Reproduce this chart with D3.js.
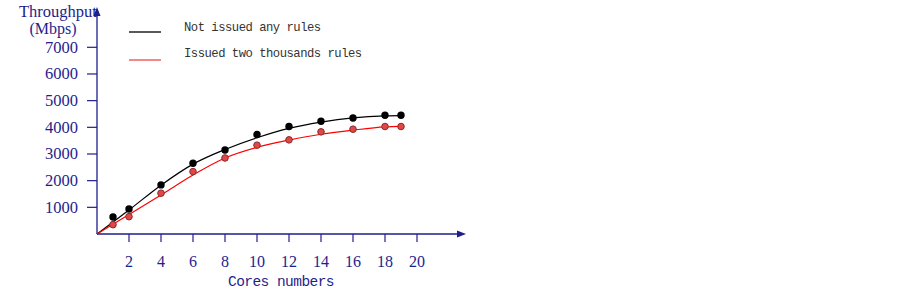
<!DOCTYPE html>
<html><head><meta charset="utf-8">
<script src="https://cdn.jsdelivr.net/npm/d3@7"></script>
<style>body{margin:0;background:#fff}</style>
</head><body><svg id="c" width="903" height="301"></svg>
<script>
const cores = [1,2,4,6,8,10,12,14,16,18,19];
const noRules = [640,940,1840,2650,3150,3730,4030,4230,4350,4450,4450];
const twoKRules = [350,650,1530,2340,2850,3330,3530,3830,3930,4030,4030];
const fitX = [0,2,4,6,8,10,12,14,16,18,19];
const noRulesFit = [0,900,1830,2620,3170,3610,3960,4195,4355,4430,4440];
const twoKRulesFit = [0,730,1460,2210,2850,3250,3520,3740,3895,4015,4035];
const xTicks = [2,4,6,8,10,12,14,16,18,20];
const yTicks = [1000,2000,3000,4000,5000,6000,7000];
const legendLabels = ["Not issued any rules","Issued two thousands rules"];

const svg = d3.select("#c");
const navy = "#1e1e8c";
const x = d3.scaleLinear().domain([0,20]).range([97,417]);
const y = d3.scaleLinear().domain([0,7000]).range([234,47.3]);

svg.append("line").attr("x1",97).attr("y1",234).attr("x2",460).attr("y2",234).attr("stroke",navy).attr("stroke-width",1.3);
svg.append("line").attr("x1",97).attr("y1",234).attr("x2",97).attr("y2",14).attr("stroke",navy).attr("stroke-width",1.3);
svg.append("path").attr("d","M466,234 L457,230.5 L457,237.5 Z").attr("fill",navy);
svg.append("path").attr("d","M97,7 L93.5,16 L100.5,16 Z").attr("fill",navy);

const xa = svg.append("g");
xTicks.forEach(t=>{
  xa.append("line").attr("x1",x(t)).attr("x2",x(t)).attr("y1",234).attr("y2",242).attr("stroke",navy).attr("stroke-width",1.2);
  xa.append("text").attr("x",x(t)).attr("y",267).attr("text-anchor","middle").attr("fill",navy)
    .attr("font-family","Liberation Serif").attr("font-size",16).text(t);
});
const ya = svg.append("g");
yTicks.forEach(t=>{
  ya.append("line").attr("x1",87).attr("x2",97).attr("y1",y(t)).attr("y2",y(t)).attr("stroke",navy).attr("stroke-width",1.2);
  ya.append("text").attr("x",78).attr("y",y(t)+5.5).attr("text-anchor","end").attr("fill",navy)
    .attr("font-family","Liberation Serif").attr("font-size",16.5).text(t);
});
svg.append("text").attr("x",58).attr("y",17).attr("text-anchor","middle").attr("fill",navy)
  .attr("font-family","Liberation Serif").attr("font-size",16.5).text("Throughput");
svg.append("text").attr("x",53).attr("y",34).attr("text-anchor","middle").attr("fill",navy)
  .attr("font-family","Liberation Serif").attr("font-size",16).text("(Mbps)");
svg.append("text").attr("x",281).attr("y",286).attr("text-anchor","middle").attr("fill",navy)
  .attr("font-family","Liberation Mono").attr("font-size",14.5).attr("letter-spacing",-0.55).text("Cores numbers");

const line = d3.line().x((d,i)=>x(fitX[i])).y(d=>y(d)).curve(d3.curveMonotoneX);
svg.append("path").attr("d",line(noRulesFit)).attr("fill","none").attr("stroke","#000").attr("stroke-width",1.2);
svg.append("path").attr("d",line(twoKRulesFit)).attr("fill","none").attr("stroke","#ff0000").attr("stroke-width",1.2);

svg.append("g").selectAll("circle").data(noRules).join("circle")
  .attr("cx",(d,i)=>x(cores[i])).attr("cy",d=>y(d)).attr("r",3.7).attr("fill","#000");
svg.append("g").selectAll("circle").data(twoKRules).join("circle")
  .attr("cx",(d,i)=>x(cores[i])).attr("cy",d=>y(d)).attr("r",3.3).attr("fill","#e04848").attr("stroke","#8a2a2a").attr("stroke-width",1);

const lg = [{c:"#222",y:32,ty:31},{c:"#f06060",y:60,ty:57}];
lg.forEach((l,i)=>{
  svg.append("line").attr("x1",129).attr("x2",161).attr("y1",l.y).attr("y2",l.y).attr("stroke",l.c).attr("stroke-width",1.5);
  svg.append("text").attr("x",184).attr("y",l.ty).attr("fill","#333").attr("font-family","Liberation Mono")
    .attr("font-size",12.2).attr("letter-spacing",-0.48).text(legendLabels[i]);
});
</script></body></html>
